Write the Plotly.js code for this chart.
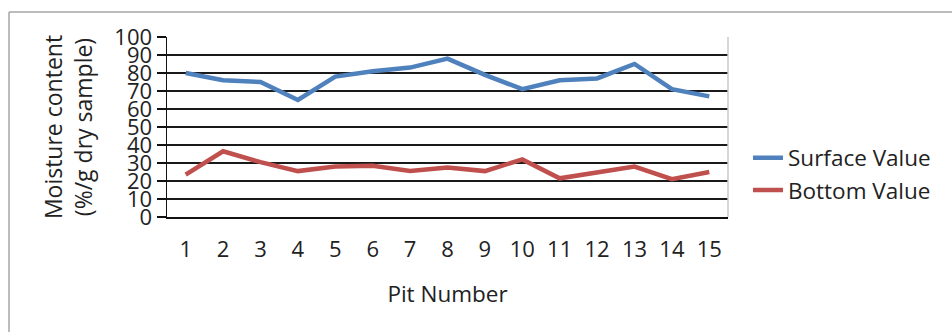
<!DOCTYPE html>
<html>
<head>
<meta charset="utf-8">
<script src="https://cdn.plot.ly/plotly-3.0.1.min.js"></script>
<style>
  html, body { margin: 0; padding: 0; background: #fff; }
  #chart { width: 952px; height: 332px; }
</style>
</head>
<body>
<div id="chart"></div>
<script>
// Pit numbers along the category axis
const pits = ['1','2','3','4','5','6','7','8','9','10','11','12','13','14','15'];
// Moisture content (%/g dry sample) at the surface of each pit
const surfaceValue = [80, 76, 75, 65, 78, 81, 83, 88, 79, 71, 76, 77, 85, 71, 67];
// Moisture content (%/g dry sample) at the bottom of each pit
const bottomValue = [23.5, 36.5, 30.5, 25.5, 28, 28.5, 25.5, 27.5, 25.5, 32, 21.5, 24.5, 28, 21, 25];
const yTicks = [0, 10, 20, 30, 40, 50, 60, 70, 80, 90, 100];

const W = 952, H = 332;
const M = { l: 167, r: 224, t: 37, b: 115 };
const pw = W - M.l - M.r, ph = H - M.t - M.b;
// convert page pixels to paper coordinates for the frame lines
const px = x => (x - M.l) / pw;
const py = y => (H - M.b - y) / ph;

const font = 'Open Sans, Liberation Sans, sans-serif';

const traces = [
  { x: pits, y: surfaceValue, name: 'Surface Value', type: 'scatter', mode: 'lines',
    line: { color: '#4F81BD', width: 4.5 } },
  { x: pits, y: bottomValue, name: 'Bottom Value', type: 'scatter', mode: 'lines',
    line: { color: '#C0504D', width: 4.5 } }
];

const layout = {
  width: W, height: H,
  margin: M,
  paper_bgcolor: '#fff', plot_bgcolor: '#fff',
  font: { family: font, size: 22, color: '#222' },
  showlegend: true,
  legend: {
    x: px(748), y: py(174), xanchor: 'left', yanchor: 'middle',
    font: { family: font, size: 22.5, color: '#222' },
    itemwidth: 30, tracegroupgap: 0, bgcolor: 'rgba(0,0,0,0)'
  },
  xaxis: {
    type: 'category', range: [-0.5, 14.5],
    showgrid: false, zeroline: false,
    showline: true, linecolor: '#111', linewidth: 1.5,
    ticks: '', ticklabelstandoff: 12,
    tickfont: { family: font, size: 22, color: '#222' },
    title: { text: 'Pit Number', font: { family: font, size: 22.5, color: '#222' }, standoff: 24 },
    fixedrange: true
  },
  yaxis: {
    range: [0, 100], tickvals: yTicks, ticktext: yTicks.map(String),
    showgrid: true, gridcolor: '#1a1a1a', gridwidth: 1.5,
    zeroline: false,
    showline: true, linecolor: '#111', linewidth: 1.5,
    ticks: 'outside', ticklen: 9, tickcolor: '#111', tickwidth: 1.5,
    tickfont: { family: font, size: 22, color: '#222' },
    title: { text: 'Moisture content<br>(%/g dry sample)', font: { family: font, size: 23, color: '#222' }, standoff: 15 },
    fixedrange: true
  },
  shapes: [
    // outer chart frame (top and left edges)
    { type: 'line', xref: 'paper', yref: 'paper', x0: px(9), x1: px(970), y0: py(12), y1: py(12),
      line: { color: '#A6A6A6', width: 1.5 } },
    { type: 'line', xref: 'paper', yref: 'paper', x0: px(9), x1: px(9), y0: py(12), y1: py(350),
      line: { color: '#A6A6A6', width: 1.5 } },
    // right edge of the plot area
    { type: 'line', xref: 'paper', yref: 'paper', x0: 1, x1: 1, y0: 0, y1: 1,
      line: { color: '#C8C8C8', width: 1.5 } }
  ]
};

Plotly.newPlot('chart', traces, layout, { staticPlot: true, displayModeBar: false });
</script>
</body>
</html>
